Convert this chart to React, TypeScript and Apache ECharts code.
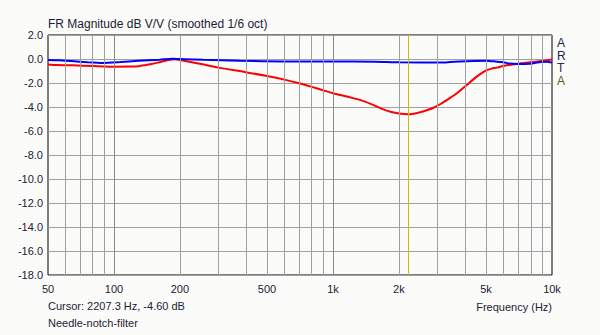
import React, { useEffect, useRef } from "react";
import * as echarts from "echarts";

const FONT = "'Liberation Sans', Arial, sans-serif";
const TEXT = "#1c2036";

const redFreq = [50, 55, 65, 80, 90, 100, 120, 130, 140, 150, 160, 170, 180, 190, 200, 250, 300, 400, 500, 600, 700, 800, 900, 1000, 1200, 1400, 1550, 1700, 1850, 2000, 2207, 2455, 2700, 2876, 3100, 3306, 3680, 4000, 4530, 4800, 5000, 5300, 5590, 6000, 7000, 8000, 9000, 10000];
const redDb = [-0.45, -0.5, -0.53, -0.58, -0.62, -0.64, -0.63, -0.6, -0.5, -0.4, -0.28, -0.16, -0.06, -0.02, -0.08, -0.42, -0.72, -1.1, -1.42, -1.72, -2.02, -2.32, -2.6, -2.85, -3.2, -3.55, -3.88, -4.2, -4.42, -4.54, -4.6, -4.47, -4.25, -4.06, -3.75, -3.42, -2.86, -2.3, -1.47, -1.15, -0.95, -0.8, -0.72, -0.58, -0.39, -0.28, -0.17, -0.05];

const blueFreq = [50, 56, 64, 76, 89, 107, 129, 162, 185, 210, 256, 375, 600, 1000, 1560, 2000, 3180, 3600, 4080, 5000, 5500, 6000, 6400, 7000, 7900, 8880, 9500, 10000];
const blueDb = [-0.08, -0.1, -0.17, -0.27, -0.33, -0.25, -0.15, -0.06, 0.02, -0.02, -0.07, -0.15, -0.2, -0.2, -0.22, -0.28, -0.3, -0.22, -0.18, -0.14, -0.2, -0.28, -0.38, -0.42, -0.4, -0.25, -0.22, -0.3];

const labeledTicks = [50, 100, 200, 500, 1000, 2000, 5000, 10000];
const tickLabels = ["50", "100", "200", "500", "1k", "2k", "5k", "10k"];
const gridFreqs = [60, 70, 80, 90, 100, 200, 300, 400, 500, 600, 700, 800, 900, 1000, 2000, 3000, 4000, 5000, 6000, 7000, 8000, 9000];

const cursorFreq = 2207.3;
const cursorDb = -4.6;
const titleText = "FR Magnitude dB V/V (smoothed 1/6 oct)";
const xAxisTitle = "Frequency (Hz)";
const noteText = "Needle-notch-filter";
const brand = ["A", "R", "T", "A"];
const brandColors = ["#1a2450", "#1a2450", "#2a2060", "#6a5020"];

export default function App() {
  const ref = useRef<HTMLDivElement>(null);
  useEffect(() => {
    if (!ref.current) return;
    const chart = echarts.init(ref.current, null, { renderer: "svg" });
    const gridLines: any[] = gridFreqs.map((f) => ({
      xAxis: f,
      label: { show: false },
      lineStyle: { color: f === 100 || f === 1000 ? "#888888" : "#a0a0a0", width: 1, type: "solid" },
    }));
    labeledTicks.forEach((f, i) => {
      gridLines.push({
        xAxis: f,
        lineStyle: { color: "rgba(0,0,0,0)", width: 1, type: "solid" },
        label: {
          show: true,
          position: "start",
          distance: 8,
          formatter: tickLabels[i],
          color: TEXT,
          fontFamily: FONT,
          fontSize: 11,
        },
      });
    });
    gridLines.push({
      xAxis: cursorFreq,
      label: { show: false },
      lineStyle: { color: "#c8c000", width: 1, type: "solid" },
    });

    const option: any = {
      animation: false,
      backgroundColor: "#fbfcf9",
      grid: { left: 48, right: 48, top: 35, bottom: 60, show: true, borderColor: "#000", borderWidth: 1, backgroundColor: "transparent" },
      xAxis: {
        type: "log",
        logBase: 10,
        min: 50,
        max: 10000,
        axisLine: { show: false },
        axisTick: { show: false },
        axisLabel: { show: false },
        splitLine: { show: false },
        minorSplitLine: { show: false },
      },
      yAxis: {
        type: "value",
        min: -18,
        max: 2,
        interval: 2,
        axisLine: { show: false },
        axisTick: { show: false },
        axisLabel: {
          margin: 5,
          color: TEXT,
          fontFamily: FONT,
          fontSize: 11,
          formatter: (v: number) => v.toFixed(1),
        },
        splitLine: { show: true, lineStyle: { color: "#a0a0a0", width: 1 } },
      },
      series: [
        {
          type: "line",
          data: [],
          silent: true,
          markLine: { silent: true, symbol: "none", animation: false, data: gridLines },
        },
        {
          type: "line",
          data: redFreq.map((f, i) => [f, redDb[i]]),
          showSymbol: false,
          smooth: 0.3,
          lineStyle: { color: "#ff0000", width: 2 },
          itemStyle: { color: "#ff0000" },
        },
        {
          type: "line",
          data: blueFreq.map((f, i) => [f, blueDb[i]]),
          showSymbol: false,
          smooth: 0.2,
          lineStyle: { color: "#0000ff", width: 2 },
          itemStyle: { color: "#0000ff" },
        },
      ],
      graphic: [
        { type: "text", left: 48, top: 18, style: { text: titleText, fill: TEXT, font: `12px ${FONT}` } },
        { type: "text", left: 48, top: 300, style: { text: `Cursor: ${cursorFreq.toFixed(1)} Hz, ${cursorDb.toFixed(2)} dB`, fill: TEXT, font: `11px ${FONT}` } },
        { type: "text", left: 48, top: 317, style: { text: noteText, fill: TEXT, font: `11px ${FONT}` } },
        { type: "text", right: 48, top: 301, style: { text: xAxisTitle, fill: TEXT, font: `11px ${FONT}` } },
        ...brand.map((ch, i) => ({
          type: "text",
          left: 557,
          top: 37 + i * 12.7,
          style: { text: ch, fill: brandColors[i], font: `12px ${FONT}` },
        })),
      ],
    };
    chart.setOption(option);
    return () => chart.dispose();
  }, []);
  return <div ref={ref} style={{ position: "fixed", left: 0, top: 0, width: 600, height: 335 }} />;
}
